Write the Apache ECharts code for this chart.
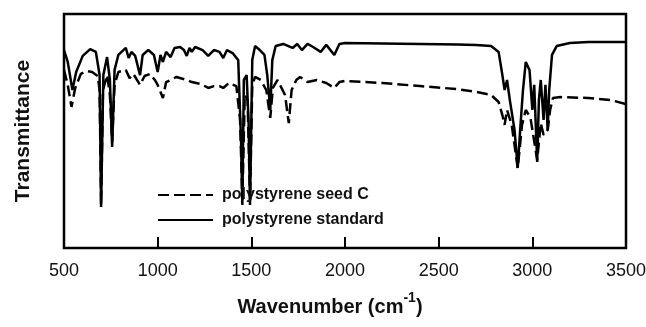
<!DOCTYPE html>
<html>
<head>
<meta charset="utf-8">
<script src="https://cdn.jsdelivr.net/npm/echarts@6/dist/echarts.min.js"></script>
<style>
  html, body { margin: 0; padding: 0; background: #fff; }
  #chart { width: 646px; height: 327px; }
</style>
</head>
<body>
<div id="chart"></div>
<script>
// wavenumber (cm-1) and transmittance (arbitrary units, 0-100)
const standardWn = [500, 520, 545, 565, 600, 640, 670, 690, 698, 710, 730, 745, 757, 770, 790, 830, 845, 860, 880, 906, 920, 950, 980,
  1000, 1015, 1028, 1045, 1069, 1090, 1120, 1140, 1155, 1170, 1182, 1200, 1240, 1270, 1300, 1330, 1350, 1370, 1400, 1430, 1445, 1452,
  1460, 1475, 1485, 1493, 1505, 1520, 1545, 1570, 1585, 1601, 1612, 1630, 1670, 1720, 1745, 1770, 1800, 1830, 1870, 1900, 1943, 1970,
  2000, 2200, 2400, 2600, 2700, 2780, 2820, 2840, 2852, 2865, 2880, 2905, 2922, 2935, 2950, 2965, 2985, 3000, 3010, 3026, 3035, 3045,
  3060, 3070, 3082, 3090, 3105, 3130, 3200, 3300, 3500];
const standardT = [84.6, 79.5, 67.5, 75.2, 82.1, 85.0, 83.8, 73.9, 17.5, 73.9, 81.6, 71.8, 43.2, 76.1, 82.5, 85.5, 81.2, 83.8, 82.1, 73.9, 82.5, 84.6, 82.5,
  75.2, 82.5, 79.5, 83.8, 81.6, 85.5, 85.9, 84.6, 82.1, 85.5, 83.8, 85.9, 84.6, 82.1, 84.6, 83.8, 81.2, 84.6, 83.3, 80.3, 46.2, 18.4,
  71.8, 73.9, 54.7, 18.4, 80.3, 86.3, 84.6, 82.5, 73.9, 59.0, 80.3, 86.3, 87.2, 85.5, 87.2, 84.6, 87.2, 85.9, 83.8, 86.8, 82.5, 87.2,
  87.6, 87.4, 87.2, 87.0, 86.8, 86.3, 83.8, 73.9, 67.5, 71.8, 63.2, 50.4, 34.2, 50.4, 67.5, 79.5, 76.1, 59.0, 69.7, 36.8, 63.2, 71.8,
  54.7, 69.7, 50.4, 67.5, 82.5, 86.3, 87.6, 88.0, 88.0];

const seedWn = [500, 520, 540, 560, 590, 620, 650, 680, 690, 698, 708, 730, 745, 757, 770, 790, 830, 850, 870, 906, 930, 960, 985,
  1000, 1028, 1045, 1069, 1100, 1155, 1182, 1230, 1270, 1300, 1330, 1350, 1380, 1420, 1440, 1452, 1465, 1480, 1493, 1505, 1520,
  1550, 1580, 1601, 1615, 1640, 1680, 1700, 1715, 1740, 1760, 1800, 1850, 1900, 1943, 1970, 2000, 2200, 2400, 2600, 2700, 2780,
  2820, 2840, 2852, 2865, 2890, 2922, 2945, 2965, 2990, 3026, 3045, 3060, 3082, 3095, 3110, 3150, 3300, 3420, 3500];
const seedT = [76.1, 69.7, 60.3, 68.4, 74.4, 75.6, 75.2, 73.5, 67.5, 18.4, 67.5, 73.9, 65.4, 45.3, 69.7, 75.2, 76.1, 72.6, 74.4, 69.7, 73.5, 74.4, 71.8,
  69.7, 64.1, 70.9, 71.8, 73.1, 71.8, 70.9, 70.1, 68.4, 69.2, 69.2, 68.4, 70.5, 69.2, 54.7, 20.5, 65.4, 63.2, 20.5, 69.7, 73.1,
  71.8, 67.5, 55.6, 68.4, 71.8, 65.4, 53.4, 67.5, 71.8, 73.1, 70.9, 71.8, 70.5, 68.4, 70.9, 71.4, 70.5, 69.2, 67.9, 66.7, 65.4,
  62.4, 56.8, 52.6, 59.0, 52.6, 34.2, 52.6, 59.0, 55.6, 37.6, 53.4, 48.3, 50.4, 59.0, 64.1, 64.5, 64.1, 63.2, 61.5];

const xTicks = [500, 1000, 1500, 2000, 2500, 3000, 3500];

const font = 'Liberation Sans, Arial, sans-serif';
const chart = echarts.init(document.getElementById('chart'));
chart.setOption({
  animation: false,
  backgroundColor: '#fff',
  grid: {
    left: 64, right: 20, top: 14, bottom: 79,
    outerBoundsMode: 'none',
    show: true, borderColor: '#000', borderWidth: 2.5
  },
  legend: {
    orient: 'vertical',
    left: 152,
    top: 182,
    itemWidth: 55,
    itemHeight: 16,
    itemGap: 9,
    itemStyle: { opacity: 0 },
    textStyle: { fontFamily: font, fontSize: 16, fontWeight: 'bold', color: '#111', padding: [0, 0, 0, 4] },
    data: ['polystyrene seed C', 'polystyrene standard']
  },
  xAxis: {
    type: 'value',
    min: xTicks[0],
    max: xTicks[xTicks.length - 1],
    interval: 500,
    axisLine: { show: false },
    axisTick: { show: true, inside: true, length: 11, lineStyle: { color: '#000', width: 2 } },
    splitLine: { show: false },
    axisLabel: { fontFamily: font, fontSize: 18, color: '#111', margin: 14, formatter: (v) => String(v) },
    name: '{a|Wavenumber (cm}{s|-1}{a|)}',
    nameLocation: 'middle',
    nameGap: 43,
    nameTextStyle: {
      padding: [0, 30, 0, 0],
      rich: {
        a: { fontFamily: font, fontSize: 20, fontWeight: 'bold', color: '#111', lineHeight: 26, verticalAlign: 'bottom' },
        s: { fontFamily: font, fontSize: 14, fontWeight: 'bold', color: '#111', lineHeight: 26, verticalAlign: 'top' }
      }
    }
  },
  yAxis: {
    type: 'value',
    min: 0,
    max: 100,
    axisLine: { show: false },
    axisTick: { show: false },
    axisLabel: { show: false },
    splitLine: { show: false },
    name: 'Transmittance',
    nameLocation: 'middle',
    nameGap: 30,
    nameTextStyle: { fontFamily: font, fontSize: 21, fontWeight: 'bold', color: '#111' }
  },
  series: [
    {
      name: 'polystyrene seed C',
      type: 'line',
      symbol: 'none',
      data: seedWn.map((w, i) => [w, seedT[i]]),
      lineStyle: { color: '#000', width: 2.5, type: [11, 5] },
      itemStyle: { color: '#000' }
    },
    {
      name: 'polystyrene standard',
      type: 'line',
      symbol: 'none',
      data: standardWn.map((w, i) => [w, standardT[i]]),
      lineStyle: { color: '#000', width: 2.5 },
      itemStyle: { color: '#000' }
    }
  ]
});
</script>
</body>
</html>
